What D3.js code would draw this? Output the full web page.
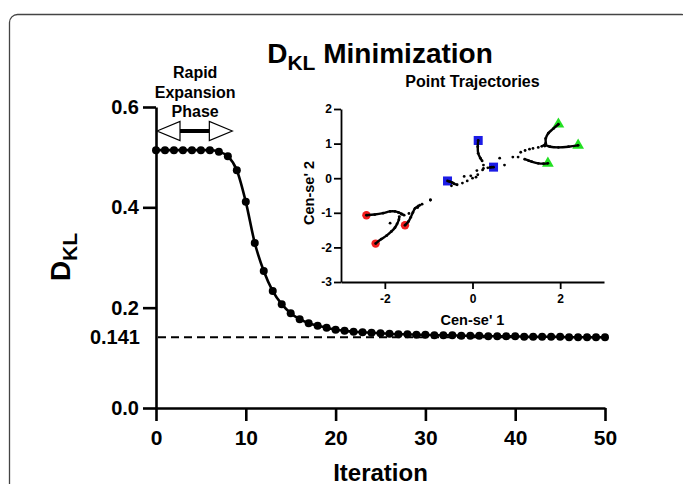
<!DOCTYPE html>
<html>
<head>
<meta charset="utf-8">
<script src="https://cdn.jsdelivr.net/npm/d3@7"></script>
<style>
  body { margin: 0; background: #fff; }
  text { font-family: "Liberation Sans", Arial, sans-serif; font-weight: bold; fill: #000; }
</style>
</head>
<body>
<div id="chart"></div>
<script>
// main series: D_KL per iteration (index = iteration)
let dklValues = [
  0.514, 0.514, 0.514, 0.514, 0.514, 0.514, 0.514, 0.511, 0.502, 0.474,
  0.411, 0.329, 0.273, 0.233, 0.207, 0.189, 0.177, 0.169, 0.164, 0.160,
  0.156, 0.154, 0.152, 0.151, 0.150, 0.149, 0.148, 0.147, 0.147, 0.146,
  0.146, 0.145, 0.145, 0.145, 0.144, 0.144, 0.144, 0.143, 0.143, 0.143,
  0.143, 0.142, 0.142, 0.142, 0.142, 0.142, 0.141, 0.141, 0.141, 0.141,
  0.141
]
let xTicks = [0, 10, 20, 30, 40, 50]
let yTicks = [0, 0.2, 0.4, 0.6]
let plateau = 0.141
let phaseRange = [0, 8.5]

// inset: trajectories (sparse transit dots + dense tail ending on the marker)
let insetXTicks = [-2, 0, 2]
let insetYTicks = [-3, -2, -1, 0, 1, 2]
let trajGroup = ["red", "red", "red", "blue", "blue", "blue", "green", "green", "green"]
let trajTransit = [
  [[-0.96, -0.63], [-1.25, -0.85], [-1.45, -1.02], [-1.88, -1.30]],
  [[-1.2, -0.78], [-1.62, -1.04]],
  [[-0.96, -0.63], [-1.15, -0.75]],
  [[0.12, 0.10], [0.08, 0.03], [-0.04, 0.07], [-0.19, 0.05], [0.0, 0.0], [-0.12, -0.08], [-0.23, -0.14], [-0.48, -0.22]],
  [[0.23, 0.24], [0.25, 0.38]],
  [[0.10, 0.22], [0.25, 0.28], [0.35, 0.30]],
  [[0.62, 0.58], [0.73, 0.38], [0.92, 0.61], [1.04, 0.61]],
  [[1.1, 0.75], [1.3, 0.84], [1.5, 0.89]],
  [[1.2, 0.80], [1.38, 0.86]]
]
let trajTail = [
  [[-1.56, -1.07], [-1.62, -1.03], [-1.69, -0.99], [-1.77, -0.96], [-1.88, -0.96], [-2.04, -1.01], [-2.23, -1.05], [-2.42, -1.07]],
  [[-1.67, -1.11], [-1.68, -1.20], [-1.72, -1.32], [-1.77, -1.43], [-1.85, -1.54], [-1.96, -1.66], [-2.08, -1.76], [-2.21, -1.89]],
  [[-1.23, -0.80], [-1.31, -0.87], [-1.36, -0.99], [-1.41, -1.13], [-1.46, -1.25], [-1.54, -1.36]],
  [[-0.35, -0.19], [-0.42, -0.16], [-0.46, -0.13], [-0.52, -0.10], [-0.57, -0.08]],
  [[0.22, 0.50], [0.18, 0.58], [0.13, 0.72], [0.12, 0.91], [0.13, 1.09]],
  [[0.40, 0.31], [0.44, 0.32], [0.48, 0.32]],
  [[1.19, 0.55], [1.28, 0.51], [1.35, 0.48], [1.50, 0.43], [1.62, 0.42], [1.72, 0.43]],
  [[1.65, 0.93], [1.67, 1.01], [1.67, 1.15], [1.73, 1.30], [1.85, 1.44], [1.96, 1.56]],
  [[1.58, 0.92], [1.65, 0.96], [1.77, 0.91], [1.96, 0.89], [2.19, 0.91], [2.41, 0.95]]
]
let groupColors = { red: "#f01e1e", blue: "#1c1ce6", green: "#22e022" }

let width = 683
let height = 484

let svg = d3.select("#chart")
  .append("svg")
  .attr("width", width)
  .attr("height", height)

// frame with rounded corners (runs off the right and bottom edge)
svg.append("rect")
  .attr("x", 9.5).attr("y", 14.5)
  .attr("width", 680).attr("height", 520)
  .attr("rx", 8)
  .attr("fill", "none")
  .attr("stroke", "#444")
  .attr("stroke-width", 1.3)

// ---------- main chart ----------
let x = d3.scaleLinear().domain([0, 50]).range([156, 605])
let y = d3.scaleLinear().domain([0, 0.6]).range([408, 107])

let xAxis = svg.append("g")
  .attr("transform", "translate(0," + y(0) + ")")
  .call(d3.axisBottom(x).tickValues(xTicks).tickSize(13).tickSizeOuter(0).tickPadding(9))
xAxis.selectAll("text").style("font-size", "21px")

let yAxis = svg.append("g")
  .attr("transform", "translate(" + x(0) + ",0)")
  .call(d3.axisLeft(y).tickValues(yTicks).tickSize(13).tickSizeOuter(0).tickPadding(4).tickFormat(d3.format(".1f")))
yAxis.selectAll("text").style("font-size", "20px")

svg.selectAll(".domain, .tick line")
  .attr("stroke", "#000")
  .attr("stroke-width", 2.6)
svg.selectAll(".tick text").attr("fill", "#000")

// plateau label and dashed line
svg.append("text")
  .attr("x", x(0) - 16).attr("y", y(plateau))
  .attr("dy", "0.36em")
  .attr("text-anchor", "end")
  .style("font-size", "20px")
  .text("0.141")

svg.append("line")
  .attr("x1", x(0) + 2).attr("x2", x(50))
  .attr("y1", y(plateau)).attr("y2", y(plateau))
  .attr("stroke", "#000")
  .attr("stroke-width", 2)
  .attr("stroke-dasharray", "8,5")

// curve and points
let line = d3.line()
  .x((d, i) => x(i))
  .y(d => y(d))
  .curve(d3.curveMonotoneX)

svg.append("path")
  .datum(dklValues)
  .attr("d", line)
  .attr("fill", "none")
  .attr("stroke", "#000")
  .attr("stroke-width", 2.6)

svg.selectAll(".pt")
  .data(dklValues)
  .enter()
  .append("circle")
  .attr("class", "pt")
  .attr("cx", (d, i) => x(i))
  .attr("cy", d => y(d))
  .attr("r", 4)
  .attr("fill", "#000")

// title
let title = svg.append("text")
  .attr("x", 380).attr("y", 63)
  .attr("text-anchor", "middle")
  .style("font-size", "28px")
title.append("tspan").text("D")
title.append("tspan").attr("dy", 7).style("font-size", "21px").text("KL")
title.append("tspan").attr("dy", -7).text(" Minimization")

// y label
let ylab = svg.append("text")
  .attr("transform", "translate(70,257) rotate(-90)")
  .attr("text-anchor", "middle")
  .style("font-size", "28px")
ylab.append("tspan").text("D")
ylab.append("tspan").attr("dy", 7).style("font-size", "21px").text("KL")

// x label
svg.append("text")
  .attr("x", (x(0) + x(50)) / 2).attr("y", 481)
  .attr("text-anchor", "middle")
  .style("font-size", "24px")
  .text("Iteration")

// rapid expansion phase annotation
let phaseText = ["Rapid", "Expansion", "Phase"]
let phaseCx = (x(phaseRange[0]) + x(phaseRange[1])) / 2
svg.selectAll(".phase")
  .data(phaseText)
  .enter()
  .append("text")
  .attr("class", "phase")
  .attr("x", phaseCx + 1)
  .attr("y", (d, i) => 78 + i * 19.5)
  .attr("text-anchor", "middle")
  .style("font-size", "16px")
  .text(d => d)

let ay = 131
let ax0 = x(phaseRange[0]) + 1
let ax1 = x(phaseRange[1])
let head = 23
let hh = 9.5
svg.append("line")
  .attr("x1", ax0 + head).attr("x2", ax1 - head)
  .attr("y1", ay).attr("y2", ay)
  .attr("stroke", "#000").attr("stroke-width", 4)
svg.append("path")
  .attr("d", "M" + ax0 + "," + ay + "L" + (ax0 + head) + "," + (ay - hh) + "L" + (ax0 + head) + "," + (ay + hh) + "Z")
  .attr("fill", "#fff").attr("stroke", "#000").attr("stroke-width", 1.2)
svg.append("path")
  .attr("d", "M" + ax1 + "," + ay + "L" + (ax1 - head) + "," + (ay - hh) + "L" + (ax1 - head) + "," + (ay + hh) + "Z")
  .attr("fill", "#fff").attr("stroke", "#000").attr("stroke-width", 1.2)

// ---------- inset ----------
let ix = d3.scaleLinear().domain([-3, 3]).range([341, 604])
let iy = d3.scaleLinear().domain([-3, 2]).range([282, 109])
let plainInt = d => String(d)

let inset = svg.append("g")

let ixAxis = inset.append("g")
  .attr("transform", "translate(0," + iy(-3) + ")")
  .call(d3.axisBottom(ix).tickValues(insetXTicks).tickSize(7).tickSizeOuter(0).tickPadding(5).tickFormat(plainInt))
let iyAxis = inset.append("g")
  .attr("transform", "translate(" + ix(-3) + ",0)")
  .call(d3.axisLeft(iy).tickValues(insetYTicks).tickSize(7).tickSizeOuter(0).tickPadding(2).tickFormat(plainInt))
inset.selectAll(".domain, .tick line").attr("stroke", "#000").attr("stroke-width", 1.8)
inset.selectAll(".tick text").style("font-size", "12px").attr("fill", "#000")

inset.append("text")
  .attr("x", ix(0)).attr("y", 87)
  .attr("text-anchor", "middle")
  .style("font-size", "16px")
  .text("Point Trajectories")

inset.append("text")
  .attr("x", ix(0)).attr("y", 325)
  .attr("text-anchor", "middle")
  .style("font-size", "14.5px")
  .text("Cen-se' 1")

inset.append("text")
  .attr("transform", "translate(314,193) rotate(-90)")
  .attr("text-anchor", "middle")
  .style("font-size", "14.5px")
  .text("Cen-se' 2")

// end markers
trajTail.forEach((tail, k) => {
  let end = tail[tail.length - 1]
  let cx = ix(end[0]), cy = iy(end[1])
  let col = groupColors[trajGroup[k]]
  if (trajGroup[k] === "red") {
    inset.append("circle").attr("cx", cx).attr("cy", cy).attr("r", 4.2).attr("fill", col)
  } else if (trajGroup[k] === "blue") {
    inset.append("rect").attr("x", cx - 4.5).attr("y", cy - 4.5).attr("width", 9).attr("height", 9).attr("fill", col)
  } else {
    inset.append("path").attr("d", d3.symbol(d3.symbolTriangle, 60)()).attr("transform", "translate(" + cx + "," + cy + ")").attr("fill", col)
  }
})

// trajectories
let tline = d3.line().x(d => ix(d[0])).y(d => iy(d[1])).curve(d3.curveCatmullRom)
trajTail.forEach(tail => {
  inset.append("path")
    .datum(tail)
    .attr("d", tline)
    .attr("fill", "none")
    .attr("stroke", "#000")
    .attr("stroke-width", 2.4)
})
let allDots = trajTransit.flat().concat(trajTail.flat())
inset.selectAll(".tdot")
  .data(allDots)
  .enter()
  .append("circle")
  .attr("class", "tdot")
  .attr("cx", d => ix(d[0]))
  .attr("cy", d => iy(d[1]))
  .attr("r", 1.4)
  .attr("fill", "#000")
</script>
</body>
</html>
